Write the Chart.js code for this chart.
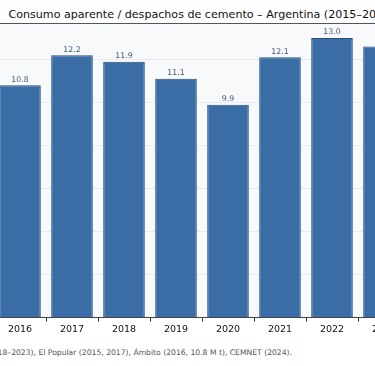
<!DOCTYPE html>
<html>
<head>
<meta charset="utf-8">
<script src="https://cdn.jsdelivr.net/npm/chart.js@4.4.1/dist/chart.umd.min.js"></script>
<style>
  html, body { margin: 0; padding: 0; background: #fff; }
  body { width: 375px; height: 366px; overflow: hidden; position: relative; font-family: "DejaVu Sans", sans-serif; }
  #title {
    position: absolute; left: 0; top: 9px; width: 403px;
    text-align: center; white-space: nowrap;
    font-size: 11.1px; line-height: 1; color: #111;
  }
  #source {
    position: absolute; right: 83px; top: 349px;
    text-align: right; white-space: nowrap;
    font-size: 7.65px; line-height: 1; color: #555;
  }
  #wrap { position: absolute; left: -70px; top: 0; width: 544px; height: 340px; }
</style>
</head>
<body>
<div id="title">Consumo aparente / despachos de cemento – Argentina (2015–2024)</div>
<div id="wrap"><canvas id="chart"></canvas></div>
<div id="source">Fuente: AFCP (2018–2023), El Popular (2015, 2017), Ámbito (2016, 10.8 M t), CEMNET (2024).</div>
<script>
// values in millions of tonnes (2015 and 2024 lie outside the crop)
const years = ["2015", "2016", "2017", "2018", "2019", "2020", "2021", "2022", "2023", "2024"];
const dispatchMt = [12.2, 10.8, 12.2, 11.9, 11.1, 9.9, 12.1, 13.0, 12.6, 9.6];

const BAR_FILL = "#3a6da5";
const BAR_EDGE = "#2a4d78";

// light panel behind the plot + top spine
const panelPlugin = {
  id: "panel",
  beforeDraw(chart) {
    const { ctx, chartArea: a } = chart;
    ctx.save();
    ctx.fillStyle = "#f8f9fb";
    ctx.fillRect(a.left, a.top, a.right - a.left, a.bottom - a.top);
    ctx.restore();
  },
  afterDraw(chart) {
    const { ctx, chartArea: a } = chart;
    ctx.save();
    ctx.strokeStyle = "#555";
    ctx.lineWidth = 1;
    ctx.beginPath();
    ctx.moveTo(a.left, Math.round(a.top) - 0.5);
    ctx.lineTo(a.right, Math.round(a.top) - 0.5);
    ctx.stroke();
    ctx.restore();
  },
};

// numbers above each bar
const valueLabels = {
  id: "valueLabels",
  afterDatasetsDraw(chart) {
    const { ctx } = chart;
    const meta = chart.getDatasetMeta(0);
    ctx.save();
    ctx.font = "7.8px 'DejaVu Sans'";
    ctx.fillStyle = "#3d5878";
    ctx.textAlign = "center";
    ctx.textBaseline = "alphabetic";
    meta.data.forEach((bar, i) => {
      ctx.fillText(dispatchMt[i].toFixed(1), bar.x, bar.y - 3.5);
    });
    ctx.restore();
  },
};

new Chart(document.getElementById("chart"), {
  type: "bar",
  data: {
    labels: years,
    datasets: [
      {
        data: dispatchMt,
        backgroundColor: BAR_FILL,
        borderColor: BAR_EDGE,
        borderWidth: 1,
        barPercentage: 0.8,
        categoryPercentage: 1.0,
      },
    ],
  },
  options: {
    responsive: true,
    maintainAspectRatio: false,
    animation: false,
    layout: { padding: { left: 12, right: 12, top: 24, bottom: 3 } },
    plugins: {
      legend: { display: false },
      tooltip: { enabled: false },
      title: { display: false },
    },
    scales: {
      x: {
        offset: true,
        grid: { drawOnChartArea: false, drawTicks: true, tickLength: 4, color: "#333" },
        border: { display: true, color: "#444", width: 1 },
        ticks: { color: "#111", padding: 2, font: { family: "DejaVu Sans", size: 9.5 } },
      },
      y: {
        min: 0,
        max: 13.65,
        z: 1,
        ticks: { display: false, stepSize: 2, includeBounds: false },
        grid: { drawTicks: false, color: "rgba(205, 210, 220, 0.35)", lineWidth: 1 },
        border: { display: false },
      },
    },
  },
  plugins: [panelPlugin, valueLabels],
});
</script>
</body>
</html>
